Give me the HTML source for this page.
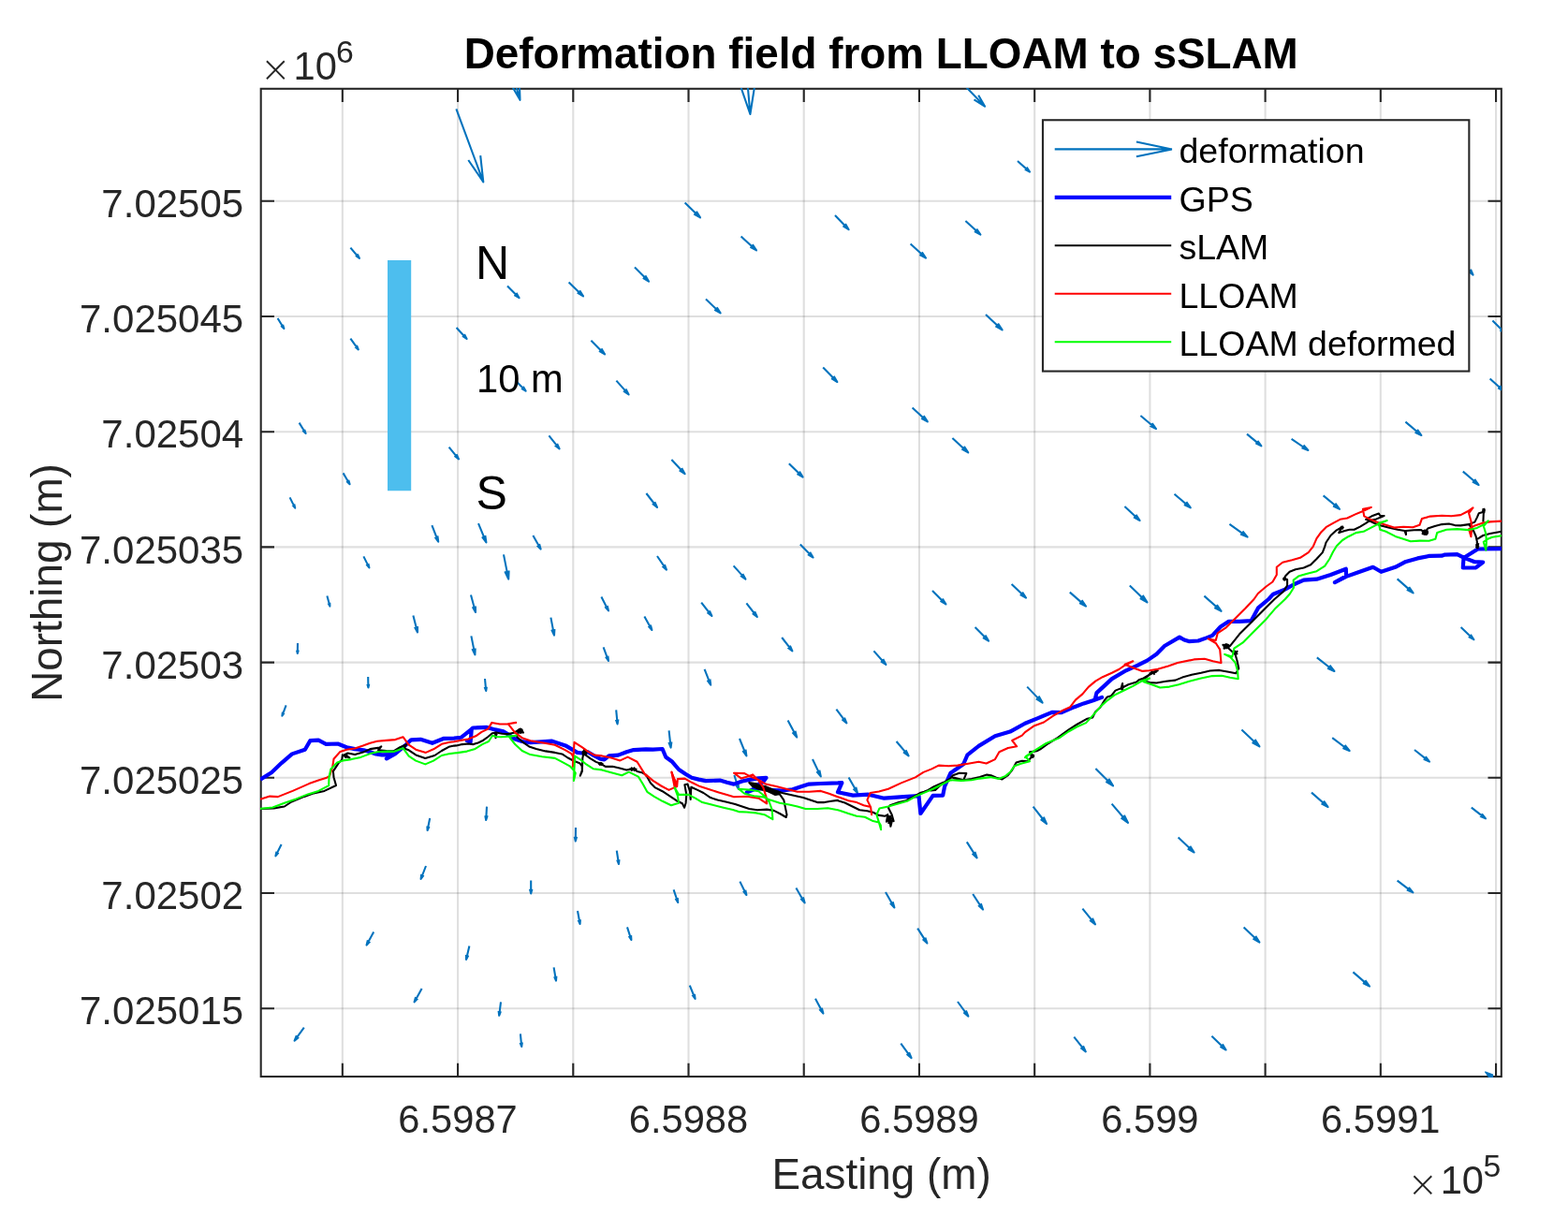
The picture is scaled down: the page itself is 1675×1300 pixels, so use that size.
<!DOCTYPE html>
<html lang="en"><head><meta charset="utf-8"><title>Deformation field from LLOAM to sSLAM</title>
<style>html,body{margin:0;padding:0;background:#fff}body{width:1675px;height:1300px;overflow:hidden}svg{display:block}text{font-family:"Liberation Sans",Arial,Helvetica,sans-serif}</style></head><body>
<svg width="1675" height="1300" viewBox="0 0 1675 1300">
<rect width="1675" height="1300" fill="#fff"/>
<defs><clipPath id="ax"><rect x="278.00" y="94.10" width="1326.10" height="1056.80"/></clipPath></defs>
<g stroke="#262626" stroke-opacity="0.15" stroke-width="2.08" fill="none">
<path d="M365.85 94.8V1150.0"/>
<path d="M489.07 94.8V1150.0"/>
<path d="M612.29 94.8V1150.0"/>
<path d="M735.51 94.8V1150.0"/>
<path d="M858.73 94.8V1150.0"/>
<path d="M981.95 94.8V1150.0"/>
<path d="M1105.17 94.8V1150.0"/>
<path d="M1228.39 94.8V1150.0"/>
<path d="M1351.61 94.8V1150.0"/>
<path d="M1474.83 94.8V1150.0"/>
<path d="M1598.05 94.8V1150.0"/>
<path d="M278.7 214.80H1603.8"/>
<path d="M278.7 338.00H1603.8"/>
<path d="M278.7 461.20H1603.8"/>
<path d="M278.7 584.40H1603.8"/>
<path d="M278.7 707.60H1603.8"/>
<path d="M278.7 830.80H1603.8"/>
<path d="M278.7 954.00H1603.8"/>
<path d="M278.7 1077.20H1603.8"/>
</g>
<g stroke="#262626" stroke-width="2.08" fill="none">
<rect x="278.7" y="94.8" width="1325.1" height="1055.2"/>
<path d="M365.85 1150.0v-14.3M365.85 94.8v14.3M489.07 1150.0v-14.3M489.07 94.8v14.3M612.29 1150.0v-14.3M612.29 94.8v14.3M735.51 1150.0v-14.3M735.51 94.8v14.3M858.73 1150.0v-14.3M858.73 94.8v14.3M981.95 1150.0v-14.3M981.95 94.8v14.3M1105.17 1150.0v-14.3M1105.17 94.8v14.3M1228.39 1150.0v-14.3M1228.39 94.8v14.3M1351.61 1150.0v-14.3M1351.61 94.8v14.3M1474.83 1150.0v-14.3M1474.83 94.8v14.3M1598.05 1150.0v-14.3M1598.05 94.8v14.3M278.7 214.80h14.3M1603.8 214.80h-14.3M278.7 338.00h14.3M1603.8 338.00h-14.3M278.7 461.20h14.3M1603.8 461.20h-14.3M278.7 584.40h14.3M1603.8 584.40h-14.3M278.7 707.60h14.3M1603.8 707.60h-14.3M278.7 830.80h14.3M1603.8 830.80h-14.3M278.7 954.00h14.3M1603.8 954.00h-14.3M278.7 1077.20h14.3M1603.8 1077.20h-14.3"/>
</g>
<g clip-path="url(#ax)">
<path d="M426.6 277.9V524.2" stroke="#4dbeee" stroke-width="25.2" fill="none"/>
<path d="M487.4 116.3L516.3 194.4M500.3 171.0L516.3 194.4L513.2 166.2M541.7 58.7L555.5 106.8M547.0 92.1L555.5 106.8L554.9 89.8M374.4 264.6L384.0 276.0M379.9 273.0L384.0 276.0L381.8 271.4M542.0 305.4L554.6 318.2M549.4 315.0L554.6 318.2L551.5 312.9M296.6 340.0L303.4 351.0M300.2 347.9L303.4 351.0L302.1 346.8M792.7 22.4L801.4 122.0M790.3 89.8L801.4 122.0L806.7 88.4M731.6 216.4L748.0 232.4M741.3 228.5L748.0 232.4L743.9 225.8M892.0 230.0L906.6 245.2M900.5 241.4L906.6 245.2L903.0 239.0M791.6 252.6L808.0 267.4M801.4 263.9L808.0 267.4L803.8 261.2M678.0 285.6L693.0 300.6M686.8 296.9L693.0 300.6L689.3 294.4M607.6 301.4L623.0 316.4M616.7 312.7L623.0 316.4L619.2 310.2M754.0 319.6L769.6 334.4M763.2 330.8L769.6 334.4L765.7 328.2M1024.2 84.9L1052.0 113.6M1040.5 106.4L1052.0 113.6L1045.2 101.8M1087.0 172.0L1100.0 183.6M1094.8 180.8L1100.0 183.6L1096.7 178.7M1031.4 236.0L1047.4 250.6M1040.9 247.1L1047.4 250.6L1043.3 244.5M972.6 260.6L989.0 275.6M982.4 272.0L989.0 275.6L984.8 269.3M1053.0 336.0L1070.6 352.4M1063.4 348.4L1070.6 352.4L1066.1 345.5M1562.0 279.0L1573.6 293.6M1568.6 289.7L1573.6 293.6L1571.0 287.8M1594.4 342.5L1608.0 356.0M1602.4 352.7L1608.0 356.0L1604.6 350.4M1591.6 404.4L1606.0 417.5M1600.2 414.4L1606.0 417.5L1602.3 412.0M374.4 361.6L382.8 373.4M379.1 370.2L382.8 373.4L381.0 368.8M487.6 350.0L498.6 362.0M494.0 358.9L498.6 362.0L496.0 357.1M550.4 406.2L561.6 417.6M557.0 414.8L561.6 417.6L558.8 412.9M319.6 451.6L326.6 463.0M323.3 459.8L326.6 463.0L325.2 458.7M586.4 465.4L597.6 479.4M592.7 475.7L597.6 479.4L595.1 473.9M479.6 477.6L490.0 490.4M485.5 487.0L490.0 490.4L487.6 485.3M366.6 505.4L373.6 517.2M370.3 513.9L373.6 517.2L372.3 512.7M309.6 531.4L315.2 542.6M312.4 539.4L315.2 542.6L314.3 538.4M461.4 561.2L468.2 578.6M464.5 573.4L468.2 578.6L467.4 572.3M511.0 559.2L519.4 579.4M515.0 573.4L519.4 579.4L518.3 572.0M569.4 572.0L577.6 586.6M573.7 582.5L577.6 586.6L576.1 581.1M388.4 594.4L394.4 606.4M391.4 602.9L394.4 606.4L393.4 601.9M538.0 592.4L543.2 618.6M539.3 610.4L543.2 618.6L543.6 609.5M631.4 363.8L646.0 378.4M640.0 374.8L646.0 378.4L642.4 372.4M658.4 406.6L671.6 421.4M666.0 417.6L671.6 421.4L668.5 415.4M879.2 392.6L894.4 408.0M888.1 404.2L894.4 408.0L890.7 401.7M717.4 491.0L731.6 506.2M725.7 502.4L731.6 506.2L728.2 500.0M842.8 495.2L857.6 509.6M851.5 506.1L857.6 509.6L853.9 503.6M690.4 527.0L702.0 542.0M696.9 538.0L702.0 542.0L699.4 536.1M854.8 581.6L868.6 595.5M862.9 592.1L868.6 595.5L865.2 589.8M702.0 594.0L712.0 608.6M707.5 604.6L712.0 608.6L709.9 603.0M974.6 435.4L990.8 450.4M984.2 446.8L990.8 450.4L986.7 444.1M1017.4 468.0L1034.2 483.4M1027.4 479.7L1034.2 483.4L1029.9 476.9M1218.4 444.0L1235.0 458.0M1228.4 454.7L1235.0 458.0L1230.7 452.0M1201.4 541.0L1217.6 556.0M1211.0 552.4L1217.6 556.0L1213.5 549.7M1254.5 527.7L1271.8 542.4M1264.9 539.0L1271.8 542.4L1267.3 536.1M1501.4 450.6L1518.4 465.0M1511.6 461.7L1518.4 465.0L1514.0 458.8M1332.0 463.6L1347.4 476.4M1341.3 473.4L1347.4 476.4L1343.4 470.9M1379.6 468.8L1397.4 481.0M1390.5 478.4L1397.4 481.0L1392.5 475.5M1562.8 503.6L1579.6 518.0M1572.9 514.6L1579.6 518.0L1575.2 511.9M1413.6 529.4L1431.0 543.8M1424.1 540.5L1431.0 543.8L1426.4 537.6M1313.4 559.8L1332.6 573.6M1325.1 570.6L1332.6 573.6L1327.4 567.5M349.4 636.4L352.4 647.6M350.5 644.2L352.4 647.6L352.3 643.7M503.0 635.6L508.0 654.0M504.8 648.3L508.0 654.0L507.9 647.5M441.4 657.4L446.0 675.4M443.0 669.8L446.0 675.4L446.0 669.1M588.4 659.6L592.0 678.6M589.2 672.6L592.0 678.6L592.4 672.0M318.0 687.0L317.8 698.0M317.0 694.4L317.8 698.0L318.8 694.4M503.4 679.4L507.4 699.4M504.4 693.1L507.4 699.4L507.7 692.5M393.2 723.0L393.4 734.4M392.4 730.7L393.4 734.4L394.3 730.6M518.0 725.0L519.2 738.0M517.7 733.8L519.2 738.0L519.9 733.6M305.6 753.4L301.4 764.6M301.9 760.6L301.4 764.6L303.7 761.3M783.6 604.4L796.4 618.6M791.0 615.0L796.4 618.6L793.3 612.9M642.4 637.6L650.0 652.4M646.3 648.1L650.0 652.4L648.7 646.9M749.2 643.6L760.4 658.0M755.5 654.2L760.4 658.0L757.9 652.3M797.4 644.4L808.8 659.0M803.8 655.1L808.8 659.0L806.2 653.2M688.4 658.6L696.4 673.0M692.6 668.9L696.4 673.0L694.9 667.6M835.2 681.0L846.4 695.4M841.5 691.6L846.4 695.4L843.9 689.7M644.6 691.4L650.0 706.0M647.0 701.6L650.0 706.0L649.4 700.7M752.6 714.8L759.2 731.6M755.6 726.6L759.2 731.6L758.4 725.5M658.2 758.4L659.6 773.4M657.9 768.6L659.6 773.4L660.4 768.3M893.4 757.6L904.4 772.4M899.5 768.4L904.4 772.4L902.0 766.6M841.6 769.4L851.2 787.6M846.5 782.4L851.2 787.6L849.5 780.8M714.6 780.4L716.6 798.6M714.4 792.8L716.6 798.6L717.4 792.4M790.0 789.0L797.4 807.4M793.4 801.9L797.4 807.4L796.5 800.7M868.0 811.0L876.8 829.4M872.4 824.1L876.8 829.4L875.4 822.6M906.6 830.6L916.0 847.0M911.5 842.4L916.0 847.0L914.3 840.8M784.4 828.0L789.0 843.0M786.2 838.4L789.0 843.0L788.7 837.7M996.0 631.0L1010.4 645.4M1004.5 641.8L1010.4 645.4L1006.8 639.5M1080.6 624.0L1096.0 638.6M1089.7 635.1L1096.0 638.6L1092.1 632.5M1142.8 632.6L1160.0 647.6M1153.1 644.1L1160.0 647.6L1155.6 641.2M1206.8 625.4L1225.4 643.4M1217.8 639.0L1225.4 643.4L1220.7 635.9M1041.6 670.0L1056.0 684.6M1050.0 681.0L1056.0 684.6L1052.5 678.6M933.4 695.4L946.4 710.0M940.9 706.3L946.4 710.0L943.3 704.1M1097.2 733.6L1113.6 750.6M1106.8 746.3L1113.6 750.6L1109.6 743.6M957.6 792.0L970.6 807.4M965.0 803.4L970.6 807.4L967.6 801.2M1170.4 821.0L1189.0 839.4M1181.3 834.9L1189.0 839.4L1184.4 831.8M1492.6 618.4L1509.6 633.4M1502.8 629.9L1509.6 633.4L1505.2 627.0M1286.4 636.6L1304.6 652.8M1297.3 649.0L1304.6 652.8L1299.9 646.0M1560.6 670.0L1574.4 683.2M1568.8 680.0L1574.4 683.2L1570.9 677.7M1406.8 702.4L1425.4 717.0M1418.1 713.7L1425.4 717.0L1420.5 710.6M1326.4 779.4L1345.4 797.4M1337.6 793.0L1345.4 797.4L1340.6 789.9M1423.2 788.2L1441.6 802.0M1434.4 799.0L1441.6 802.0L1436.7 795.9M1511.0 801.0L1527.0 813.6M1520.7 810.8L1527.0 813.6L1522.8 808.1M1401.0 846.6L1418.6 862.0M1411.5 858.4L1418.6 862.0L1414.1 855.5M520.0 861.6L519.2 876.0M518.3 871.2L519.2 876.0L520.7 871.3M459.2 874.0L456.6 887.0M456.4 882.5L456.6 887.0L458.5 882.9M300.6 902.0L294.4 914.4M295.4 909.8L294.4 914.4L297.5 910.8M455.0 925.0L449.6 939.0M450.2 933.9L449.6 939.0L452.5 934.8M567.2 940.4L567.2 954.4M566.0 949.8L567.2 954.4L568.4 949.8M399.2 995.4L391.6 1009.6M392.9 1004.3L391.6 1009.6L395.3 1005.5M501.4 1010.4L498.0 1025.0M497.9 1019.9L498.0 1025.0L500.3 1020.5M591.6 1033.4L594.0 1047.6M592.0 1043.1L594.0 1047.6L594.4 1042.7M450.6 1056.0L442.6 1070.4M444.1 1065.0L442.6 1070.4L446.4 1066.3M535.0 1070.4L533.2 1084.8M532.6 1079.9L533.2 1084.8L535.0 1080.2M324.8 1097.7L314.6 1111.7M316.8 1106.2L314.6 1111.7L319.1 1107.9M555.9 1104.3L557.2 1118.0M555.6 1113.6L557.2 1118.0L557.9 1113.4M615.0 884.0L614.8 898.6M613.7 893.8L614.8 898.6L616.1 893.8M658.8 908.6L661.0 923.0M659.1 918.4L661.0 923.0L661.5 918.1M790.4 941.6L797.4 956.0M793.9 951.8L797.4 956.0L796.3 950.7M719.6 950.4L724.2 964.0M721.6 959.9L724.2 964.0L723.8 959.1M850.4 948.6L859.6 964.4M855.3 959.9L859.6 964.4L857.9 958.4M617.0 973.0L619.6 987.0M617.6 982.6L619.6 987.0L619.9 982.2M670.0 990.4L674.4 1004.0M671.8 999.9L674.4 1004.0L674.1 999.1M736.8 1052.6L742.6 1067.0M739.5 1062.7L742.6 1067.0L741.9 1061.8M871.0 1066.8L879.4 1082.6M875.3 1078.1L879.4 1082.6L877.9 1076.7M1103.6 861.6L1118.0 880.0M1111.7 875.1L1118.0 880.0L1114.8 872.7M1187.6 858.6L1205.0 879.0M1197.6 873.7L1205.0 879.0L1200.9 870.8M1258.6 894.5L1275.6 910.5M1268.7 906.6L1275.6 910.5L1271.3 903.8M1032.8 899.4L1043.6 916.4M1038.6 911.7L1043.6 916.4L1041.4 909.9M946.0 953.0L955.4 969.4M950.9 964.8L955.4 969.4L953.7 963.2M1039.2 955.0L1050.0 971.6M1045.1 967.0L1050.0 971.6L1047.8 965.2M1156.4 970.6L1170.0 987.4M1164.1 983.0L1170.0 987.4L1166.9 980.7M980.2 991.6L990.4 1007.6M985.7 1003.2L990.4 1007.6L988.4 1001.5M1023.0 1070.0L1034.4 1085.6M1029.4 1081.4L1034.4 1085.6L1031.9 1079.5M1147.3 1107.6L1159.8 1123.4M1154.4 1119.2L1159.8 1123.4L1157.0 1117.2M1571.8 862.6L1587.0 874.4M1581.0 871.8L1587.0 874.4L1583.0 869.3M1492.6 940.6L1509.4 953.4M1502.8 950.6L1509.4 953.4L1504.9 947.8M1328.6 990.6L1345.4 1006.6M1338.5 1002.7L1345.4 1006.6L1341.2 999.9M1445.4 1038.4L1463.0 1053.6M1455.9 1050.0L1463.0 1053.6L1458.4 1047.1M1294.4 1106.8L1309.6 1121.5M1303.4 1117.9L1309.6 1121.5L1305.8 1115.4M962.3 1114.6L973.6 1130.1M968.6 1125.9L973.6 1130.1L971.1 1124.1" stroke="#0072bd" stroke-width="2.08" fill="none" stroke-linejoin="round"/>
<path d="M1586.4 1144.3L1595.1 1147.6V1151.2H1590.2L1586.2 1145.6Z" fill="#0072bd"/>
<path d="M278.0 832.7L290.0 825.2L300.7 815.1L312.0 805.4L325.8 800.7L331.4 791.1L340.2 790.7L348.3 794.8L360.9 794.5L370.3 798.2L379.1 800.1L388.5 801.3L395.4 803.2L401.6 805.5L407.9 806.4L419.2 806.1L412.9 810.4L422.3 805.1L434.2 795.1L439.2 790.3L449.3 789.8L461.8 793.8L474.3 788.8L485.0 788.6L492.5 787.8L503.8 778.8L502.6 792.9L498.8 791.1L502.6 792.9L503.8 778.8L505.1 777.5L520.1 776.9L528.9 779.4L537.7 781.3L543.9 785.1L550.2 789.5L557.7 792.0L566.5 793.2L579.0 792.4L589.1 791.6L596.6 793.9L604.1 796.4L610.4 800.1L616.7 803.9L621.7 804.5L627.9 803.2L634.2 807.0L641.7 810.8L645.5 811.4L650.5 807.4L660.5 806.6L669.3 803.2L676.8 801.1L690.0 800.4L697.5 800.7L707.6 800.0L711.3 808.8L718.2 813.8L725.1 822.0L732.6 827.0L738.9 830.8L746.4 832.6L754.0 834.1L769.0 833.6L776.5 835.8L784.0 837.6L792.8 834.5L801.6 832.6L810.4 831.4L818.5 830.8L815.4 835.1L809.1 838.3L805.4 842.7L797.8 846.4L805.4 843.3L815.4 842.0L822.9 843.9L835.5 844.5L846.7 843.3L854.2 840.8L864.3 837.6L876.8 837.0L895.0 836.4L899.4 836.1L895.0 846.2L911.3 849.6L927.6 848.7L944.5 852.7L965.2 851.2L981.5 850.2L983.4 869.0L996.6 849.9L1007.2 849.6L1009.1 840.2L1015.4 825.8L1029.2 816.3L1033.5 806.3L1045.5 796.9L1063.0 786.2L1079.0 781.6L1095.0 772.7L1108.8 767.1L1123.8 760.8L1133.9 761.2L1147.7 755.2L1157.7 751.4L1167.7 748.3L1177.1 744.9L1169.6 747.6L1171.5 740.1L1187.8 725.1L1202.8 716.3L1215.4 710.7L1225.4 705.6L1235.4 698.8L1244.0 690.0L1260.0 680.6L1265.0 683.5L1270.0 685.1L1280.0 684.5L1288.8 681.4L1295.1 678.9L1303.8 669.5L1312.6 663.8L1323.9 663.8L1336.5 663.2L1344.0 649.4L1355.2 640.0L1360.1 634.7L1372.6 629.6L1382.7 624.0L1392.7 619.6L1406.5 618.7L1421.5 614.0L1437.8 607.7L1438.1 615.2L1425.9 622.1L1438.1 615.9L1450.4 611.5L1466.7 605.8L1475.4 610.8L1490.5 605.8L1501.8 599.9L1514.3 596.4L1526.8 593.9L1540.0 593.7L1542.8 592.7L1556.6 592.1L1564.1 595.9L1575.4 600.2L1584.2 600.5L1576.6 606.3L1562.8 606.5L1563.5 595.9L1578.6 586.5L1608.0 586.1" stroke="#0000ff" stroke-width="4.17" fill="none" stroke-linejoin="round"/>
<path d="M273.8 864.3L278.8 864.0L292.6 863.4L303.8 861.5L311.4 856.5L325.1 850.9L333.9 847.7L346.5 844.9L359.0 839.0L356.5 830.2L355.9 823.9L361.5 815.4L365.3 811.4L365.9 806.4L373.4 809.5L367.1 806.6L371.5 804.5L379.1 806.1L387.8 803.6L395.4 800.1L405.4 798.6L407.3 797.3L404.1 801.3L412.9 802.0L420.4 802.4L427.3 798.2L434.2 795.1L431.7 799.5L436.7 801.3L444.2 806.4L454.3 809.9L464.3 807.0L471.8 802.0L479.4 797.8L485.0 796.6L487.5 796.4L493.8 795.1L500.1 794.5L505.7 795.1L511.3 793.2L516.4 790.7L521.4 787.0L525.8 783.2L530.1 782.6L529.5 788.2L530.1 782.6L536.4 783.8L542.7 784.1L549.0 782.8L555.2 778.8L559.0 782.6L554.0 780.1L552.1 787.0L559.0 793.2L565.2 797.4L572.8 799.9L582.8 802.4L592.8 803.9L600.4 805.4L606.6 809.5L612.9 812.7L619.2 815.2L621.7 818.3L621.9 823.9L619.8 828.7L621.9 822.7L622.3 810.1L624.2 800.1L625.4 806.4L630.5 810.1L636.7 813.9L641.7 815.8L646.8 818.9L654.3 818.7L661.8 820.4L669.3 822.4L675.6 821.2L680.6 823.9L685.6 825.2L690.0 827.6L695.0 836.4L700.0 841.4L707.6 845.2L715.1 850.2L722.6 855.2L728.9 858.3L731.1 862.7L732.6 857.7L733.3 848.9L731.4 838.3L734.5 837.6L737.0 845.2L737.7 853.9L738.3 840.8L745.2 843.9L751.5 847.0L759.0 852.1L766.5 854.6L775.3 856.5L785.3 859.0L792.8 861.5L800.3 864.0L809.1 865.2L819.1 864.6L826.7 865.9L832.9 869.0L839.8 873.0L840.5 870.2L837.3 854.6L832.9 848.3L827.9 848.9L820.4 845.2L810.4 842.7L804.1 840.1L800.3 836.1L807.9 837.4L829.2 847.7L805.4 840.1L832.9 846.4L802.9 838.3L817.9 840.1L826.7 843.9L835.5 847.0L846.7 849.5L858.0 852.1L865.5 854.6L873.1 857.1L880.6 857.1L888.1 855.8L895.0 854.9L895.0 855.2L902.5 857.5L910.1 861.2L918.2 865.2L926.4 866.2L932.6 867.8L938.9 870.9L945.2 871.8L948.3 870.2L947.0 877.8L950.2 872.8L951.4 882.8L953.3 875.3L954.6 877.1L952.7 870.2L948.9 862.7L950.8 860.2L960.2 857.1L967.7 855.2L975.2 851.5L982.8 847.1L987.2 845.8L991.5 843.9L997.8 840.2L1007.9 835.8L999.1 843.9L994.1 844.5L1000.3 840.8L1015.4 831.4L1017.9 828.2L1024.8 825.8L1032.3 826.1L1029.2 833.3L1019.1 831.4L1016.6 830.1L1029.2 833.3L1037.9 832.0L1046.7 830.1L1054.2 827.6L1058.6 828.2L1064.3 830.8L1070.5 832.4L1076.8 828.2L1081.2 822.6L1085.6 814.5L1091.8 812.8L1098.1 813.2L1102.5 807.8L1100.0 803.4L1102.5 807.8L1100.0 803.4L1107.5 802.2L1111.3 800.3L1120.1 794.0L1130.1 787.8L1141.4 779.6L1150.2 774.0L1161.5 767.7L1167.1 766.5L1170.2 760.2L1175.2 755.8L1180.2 747.6L1182.8 744.5L1187.2 743.2L1191.5 737.6L1197.8 735.1L1199.1 730.1L1199.1 737.6L1197.8 735.1L1205.3 731.3L1214.1 728.6L1216.6 726.3L1221.6 724.5L1226.6 721.3L1231.7 717.8L1236.7 716.3L1227.9 720.7L1220.4 727.0L1227.9 729.1L1235.4 729.5L1245.5 727.8L1255.5 726.6L1263.0 723.6L1273.0 720.7L1283.1 718.8L1292.6 716.5L1302.6 715.9L1312.6 717.7L1320.2 719.2L1323.3 714.0L1321.4 705.2L1319.5 698.9L1312.6 692.7L1306.4 688.9L1313.9 690.1L1307.6 692.7L1310.1 688.3L1313.9 690.1L1323.9 677.6L1336.5 665.1L1347.7 653.8L1361.5 640.0L1371.4 631.5L1375.1 625.2L1375.1 619.0L1371.4 618.4L1373.2 615.2L1377.6 610.8L1383.9 608.3L1392.7 606.5L1400.2 603.3L1406.5 597.0L1412.8 590.1L1415.2 583.9L1416.5 579.5L1421.5 572.0L1427.8 566.3L1433.4 563.2L1430.3 569.1L1436.6 567.0L1441.6 565.7L1446.6 565.7L1452.9 562.6L1459.1 558.8L1462.9 556.3L1459.1 554.8L1465.4 551.3L1472.9 548.5L1474.2 550.7L1478.6 551.0L1470.4 554.4L1462.9 556.3L1467.9 558.8L1475.4 561.6L1484.2 563.8L1493.0 565.7L1500.5 567.0L1502.0 571.1L1501.8 567.0L1510.5 566.3L1518.1 566.1L1522.1 568.9L1519.6 570.1L1524.0 570.8L1522.1 568.9L1525.2 564.5L1532.8 562.0L1540.3 560.1L1547.8 559.5L1554.1 561.1L1560.3 561.4L1569.1 560.1L1573.5 565.8L1576.6 572.7L1577.9 578.9L1578.5 585.8" stroke="#000000" stroke-width="2.08" fill="none" stroke-linejoin="round"/>
<path d="M1569.1 560.1L1575.4 557.6L1577.9 552.6L1579.8 548.2L1584.2 547.0L1585.4 543.8L1584.8 548.8L1584.4 557.6" stroke="#000000" stroke-width="2.08" fill="none" stroke-linejoin="round"/>
<path d="M1578.1 575.8L1584.2 572.0L1591.7 570.1L1608.0 567.0" stroke="#000000" stroke-width="2.08" fill="none" stroke-linejoin="round"/>
<path d="M529.3 781.7L530.2 788.0" stroke="#000000" stroke-width="2.08" fill="none" stroke-linejoin="round"/>
<path d="M531.3 784.0L528.2 785.7" stroke="#000000" stroke-width="2.08" fill="none" stroke-linejoin="round"/>
<path d="M553.1 779.9L558.9 781.7" stroke="#000000" stroke-width="2.08" fill="none" stroke-linejoin="round"/>
<path d="M554.6 778.1L557.4 783.5" stroke="#000000" stroke-width="2.08" fill="none" stroke-linejoin="round"/>
<path d="M556.9 777.9L555.1 783.7" stroke="#000000" stroke-width="2.08" fill="none" stroke-linejoin="round"/>
<path d="M558.6 779.4L553.3 782.2" stroke="#000000" stroke-width="2.08" fill="none" stroke-linejoin="round"/>
<path d="M621.5 803.5L627.4 804.7" stroke="#000000" stroke-width="2.08" fill="none" stroke-linejoin="round"/>
<path d="M622.8 801.6L626.1 806.6" stroke="#000000" stroke-width="2.08" fill="none" stroke-linejoin="round"/>
<path d="M625.0 801.2L623.8 807.1" stroke="#000000" stroke-width="2.08" fill="none" stroke-linejoin="round"/>
<path d="M626.9 802.5L621.9 805.8" stroke="#000000" stroke-width="2.08" fill="none" stroke-linejoin="round"/>
<path d="M639.0 815.7L644.5 816.1" stroke="#000000" stroke-width="2.08" fill="none" stroke-linejoin="round"/>
<path d="M640.6 814.2L642.9 817.7" stroke="#000000" stroke-width="2.08" fill="none" stroke-linejoin="round"/>
<path d="M643.3 814.4L640.1 817.5" stroke="#000000" stroke-width="2.08" fill="none" stroke-linejoin="round"/>
<path d="M672.0 821.7L680.5 821.7" stroke="#000000" stroke-width="2.08" fill="none" stroke-linejoin="round"/>
<path d="M674.1 819.8L678.3 823.5" stroke="#000000" stroke-width="2.08" fill="none" stroke-linejoin="round"/>
<path d="M678.3 819.8L674.1 823.5" stroke="#000000" stroke-width="2.08" fill="none" stroke-linejoin="round"/>
<path d="M366.9 807.3L373.0 808.7" stroke="#000000" stroke-width="2.08" fill="none" stroke-linejoin="round"/>
<path d="M371.0 806.1L368.8 809.8" stroke="#000000" stroke-width="2.08" fill="none" stroke-linejoin="round"/>
<path d="M949.3 870.9L951.5 880.2" stroke="#000000" stroke-width="2.08" fill="none" stroke-linejoin="round"/>
<path d="M951.6 870.9L949.2 880.1" stroke="#000000" stroke-width="2.08" fill="none" stroke-linejoin="round"/>
<path d="M953.2 873.7L947.6 877.3" stroke="#000000" stroke-width="2.08" fill="none" stroke-linejoin="round"/>
<path d="M953.2 877.5L947.7 873.5" stroke="#000000" stroke-width="2.08" fill="none" stroke-linejoin="round"/>
<path d="M994.5 843.5L1001.1 841.3" stroke="#000000" stroke-width="2.08" fill="none" stroke-linejoin="round"/>
<path d="M996.0 840.4L999.6 844.4" stroke="#000000" stroke-width="2.08" fill="none" stroke-linejoin="round"/>
<path d="M1198.9 730.1L1199.2 737.6" stroke="#000000" stroke-width="2.08" fill="none" stroke-linejoin="round"/>
<path d="M1200.9 733.6L1197.2 734.1" stroke="#000000" stroke-width="2.08" fill="none" stroke-linejoin="round"/>
<path d="M1227.6 719.5L1235.7 717.6" stroke="#000000" stroke-width="2.08" fill="none" stroke-linejoin="round"/>
<path d="M1229.7 716.5L1233.6 720.6" stroke="#000000" stroke-width="2.08" fill="none" stroke-linejoin="round"/>
<path d="M1101.2 806.0L1104.3 809.2" stroke="#000000" stroke-width="2.08" fill="none" stroke-linejoin="round"/>
<path d="M1103.4 805.4L1102.2 809.7" stroke="#000000" stroke-width="2.08" fill="none" stroke-linejoin="round"/>
<path d="M1105.0 807.0L1100.6 808.1" stroke="#000000" stroke-width="2.08" fill="none" stroke-linejoin="round"/>
<path d="M1306.3 689.5L1313.5 691.3" stroke="#000000" stroke-width="2.08" fill="none" stroke-linejoin="round"/>
<path d="M1309.0 687.5L1310.7 693.3" stroke="#000000" stroke-width="2.08" fill="none" stroke-linejoin="round"/>
<path d="M1312.6 688.4L1307.1 692.4" stroke="#000000" stroke-width="2.08" fill="none" stroke-linejoin="round"/>
<path d="M1318.4 694.9L1321.9 699.2" stroke="#000000" stroke-width="2.08" fill="none" stroke-linejoin="round"/>
<path d="M1322.3 695.3L1318.0 698.8" stroke="#000000" stroke-width="2.08" fill="none" stroke-linejoin="round"/>
<path d="M1370.4 618.1L1374.3 618.9" stroke="#000000" stroke-width="2.08" fill="none" stroke-linejoin="round"/>
<path d="M1371.7 616.6L1373.0 620.4" stroke="#000000" stroke-width="2.08" fill="none" stroke-linejoin="round"/>
<path d="M1373.7 617.0L1371.0 620.0" stroke="#000000" stroke-width="2.08" fill="none" stroke-linejoin="round"/>
<path d="M1431.8 562.6L1435.3 564.5" stroke="#000000" stroke-width="2.08" fill="none" stroke-linejoin="round"/>
<path d="M1433.5 561.6L1433.6 565.6" stroke="#000000" stroke-width="2.08" fill="none" stroke-linejoin="round"/>
<path d="M1435.3 562.5L1431.8 564.6" stroke="#000000" stroke-width="2.08" fill="none" stroke-linejoin="round"/>
<path d="M1519.1 567.8L1525.8 569.4" stroke="#000000" stroke-width="2.08" fill="none" stroke-linejoin="round"/>
<path d="M1520.8 566.1L1524.1 571.1" stroke="#000000" stroke-width="2.08" fill="none" stroke-linejoin="round"/>
<path d="M1523.5 565.9L1521.4 571.3" stroke="#000000" stroke-width="2.08" fill="none" stroke-linejoin="round"/>
<path d="M1525.5 567.3L1519.3 569.9" stroke="#000000" stroke-width="2.08" fill="none" stroke-linejoin="round"/>
<path d="M1519.1 567.8L1525.8 569.5" stroke="#000000" stroke-width="2.08" fill="none" stroke-linejoin="round"/>
<path d="M1520.8 566.2L1524.1 571.1" stroke="#000000" stroke-width="2.08" fill="none" stroke-linejoin="round"/>
<path d="M1523.5 566.0L1521.4 571.3" stroke="#000000" stroke-width="2.08" fill="none" stroke-linejoin="round"/>
<path d="M1525.6 567.3L1519.4 570.0" stroke="#000000" stroke-width="2.08" fill="none" stroke-linejoin="round"/>
<path d="M1584.3 543.1L1585.5 548.3" stroke="#000000" stroke-width="2.08" fill="none" stroke-linejoin="round"/>
<path d="M1585.9 543.5L1583.9 547.9" stroke="#000000" stroke-width="2.08" fill="none" stroke-linejoin="round"/>
<path d="M1586.5 546.1L1583.3 545.3" stroke="#000000" stroke-width="2.08" fill="none" stroke-linejoin="round"/>
<path d="M1577.8 579.0L1578.5 586.4" stroke="#000000" stroke-width="2.08" fill="none" stroke-linejoin="round"/>
<path d="M1579.6 580.3L1576.7 585.1" stroke="#000000" stroke-width="2.08" fill="none" stroke-linejoin="round"/>
<path d="M1579.9 584.0L1576.4 581.4" stroke="#000000" stroke-width="2.08" fill="none" stroke-linejoin="round"/>
<path d="M825.6 846.4L832.8 847.7" stroke="#000000" stroke-width="2.08" fill="none" stroke-linejoin="round"/>
<path d="M828.4 844.8L830.0 849.2" stroke="#000000" stroke-width="2.08" fill="none" stroke-linejoin="round"/>
<path d="M831.9 845.5L826.4 848.6" stroke="#000000" stroke-width="2.08" fill="none" stroke-linejoin="round"/>
<path d="M802.4 837.5L808.4 839.0" stroke="#000000" stroke-width="2.08" fill="none" stroke-linejoin="round"/>
<path d="M805.0 836.3L805.8 840.2" stroke="#000000" stroke-width="2.08" fill="none" stroke-linejoin="round"/>
<path d="M808.0 837.1L802.8 839.5" stroke="#000000" stroke-width="2.08" fill="none" stroke-linejoin="round"/>
<path d="M273.8 854.2L278.8 853.4L288.2 850.6L296.9 851.1L312.6 844.9L330.2 837.1L340.2 833.6L348.3 831.1L352.1 828.9L355.2 819.5L356.5 810.8L363.4 802.9L370.3 800.7L379.1 799.5L387.8 796.6L395.4 793.8L402.9 791.7L412.9 790.9L422.3 790.1L430.5 787.2L436.7 795.7L444.2 800.7L454.9 803.9L463.1 800.3L471.8 794.8L480.6 792.8L485.0 792.3L490.0 791.3L500.1 789.5L508.2 786.3L514.5 781.9L521.4 778.6L525.4 771.9L533.9 773.5L542.7 773.2L551.2 771.9L542.7 773.2L550.2 782.6L557.7 788.2L566.5 791.3L579.0 793.2L592.8 795.7L604.1 801.4L610.4 805.1L612.3 808.3L611.9 818.9L613.5 792.9L621.7 798.2L627.9 802.6L634.8 806.6L643.0 807.4L653.0 809.5L662.4 812.4L670.6 808.6L680.6 813.7L686.9 823.9L690.0 828.7L690.0 827.6L697.5 833.9L706.3 839.5L714.5 843.9L720.7 841.1L717.4 824.5L723.2 840.1L723.9 832.0L731.4 831.6L738.9 835.8L747.7 840.1L757.7 843.3L767.8 846.4L776.5 848.9L784.0 851.2L797.8 850.8L810.4 852.7L819.1 858.3L818.5 851.4L815.4 841.4L810.4 833.9L804.1 827.4L800.3 828.9L795.3 826.1L784.0 825.7L791.6 831.4L800.3 828.9L810.4 833.2L817.9 837.6L829.2 840.1L841.7 843.3L851.8 845.8L864.3 845.8L876.8 844.9L885.6 847.7L895.0 851.2L897.5 852.1L906.3 855.2L915.1 857.1L922.6 860.2L930.1 862.1L931.1 870.2L930.1 862.1L926.4 854.6L929.5 847.1L938.9 845.4L948.9 842.7L962.7 836.4L977.8 830.4L986.5 824.9L995.3 821.4L1002.8 817.6L1013.5 818.2L1022.9 817.6L1034.2 815.7L1045.5 813.8L1053.6 815.5L1063.0 811.1L1067.4 803.2L1076.8 799.0L1086.2 797.3L1081.2 791.0L1091.8 785.6L1095.0 782.1L1105.0 775.2L1115.1 771.5L1125.1 764.6L1135.1 758.9L1143.3 755.2L1148.9 747.6L1156.4 741.4L1162.7 733.9L1170.2 727.6L1177.8 723.2L1187.8 718.8L1195.3 715.0L1201.6 710.7L1210.3 706.3L1201.6 709.8L1210.3 713.2L1220.4 716.9L1227.9 716.3L1236.7 714.8L1248.0 711.5L1258.0 708.1L1275.5 704.4L1286.8 703.8L1295.6 706.3L1303.8 708.1L1304.5 708.1L1303.2 693.9L1298.8 687.0L1290.7 682.4L1298.8 683.9L1300.7 676.4L1310.1 670.1L1320.2 660.1L1330.2 650.0L1339.6 640.0L1343.8 634.0L1352.6 626.5L1359.5 621.5L1363.8 614.0L1363.8 605.8L1370.1 600.8L1380.2 598.3L1388.9 595.8L1397.7 590.1L1402.7 583.9L1406.5 575.1L1411.5 568.2L1416.5 563.2L1424.0 558.8L1431.5 554.8L1439.1 553.5L1447.8 549.4L1456.0 546.0L1464.8 541.9L1456.0 543.8L1457.2 551.3L1462.9 554.4L1470.4 557.5L1480.5 560.7L1489.2 563.6L1499.2 562.8L1509.3 563.2L1516.5 560.8L1519.0 553.9L1527.7 551.6L1540.3 550.7L1550.3 551.3L1560.3 550.1L1567.8 546.3L1573.5 542.3L1569.1 548.2L1571.6 557.6L1572.2 563.9L1571.4 573.3L1569.1 565.1L1575.4 561.4L1582.9 558.9L1591.7 557.4L1608.0 556.4" stroke="#ff0000" stroke-width="2.08" fill="none" stroke-linejoin="round"/>
<path d="M717.4 824.5L722.0 840.8L718.1 827.0L722.6 838.3L718.9 830.1L723.0 836.4" stroke="#ff0000" stroke-width="2.08" fill="none" stroke-linejoin="round"/>
<path d="M273.8 864.3L278.8 863.8L291.3 862.5L303.8 857.8L316.4 853.4L328.9 848.4L340.2 844.9L351.2 839.2L351.5 830.2L353.4 821.4L360.2 814.5L366.5 812.4L375.3 811.1L385.3 808.9L395.4 805.1L402.9 803.2L412.9 802.6L420.4 802.9L425.4 801.3L430.5 799.1L436.7 807.6L444.2 812.6L454.3 816.4L463.1 812.6L471.8 807.0L480.6 805.1L485.0 804.5L488.8 804.1L498.8 802.6L507.6 799.9L515.1 795.1L522.0 792.0L526.1 785.7L530.1 787.0L535.2 787.3L542.7 786.6L551.5 785.7L543.9 787.0L550.2 795.1L557.7 802.0L566.5 806.1L579.0 808.3L592.8 809.9L600.4 813.9L609.1 818.7L612.9 822.7L614.8 825.8L612.9 834.0L614.1 807.6L619.2 810.8L625.4 815.8L633.6 821.2L643.0 822.4L653.0 825.2L664.3 828.3L671.8 824.6L681.9 829.6L686.9 837.7L691.3 845.8L698.8 850.8L707.6 855.8L717.0 860.2L725.1 857.7L723.9 850.2L720.7 841.4L725.1 848.9L735.1 848.7L742.7 852.7L750.2 857.1L760.2 859.6L772.8 862.7L782.8 865.0L789.1 867.1L797.8 867.5L807.9 868.4L816.6 870.2L825.4 875.2L824.8 865.2L821.7 856.5L816.6 850.2L810.4 845.2L802.9 843.9L789.1 842.7L795.3 847.7L805.4 850.2L815.4 851.4L822.9 854.6L832.9 857.7L843.0 859.6L851.8 861.5L860.5 864.0L873.1 864.0L884.3 863.3L895.0 865.2L897.5 865.9L906.3 869.0L915.1 871.8L923.9 872.8L932.6 877.1L938.9 878.4L940.8 881.5L941.1 886.3L938.9 878.4L936.4 870.2L939.5 863.4L948.9 861.5L960.2 858.3L969.0 855.8L977.8 850.8L986.5 847.1L996.6 842.7L1006.6 837.7L1015.4 833.3L1026.7 833.9L1037.9 833.3L1046.7 831.6L1058.0 830.1L1066.8 832.0L1074.3 828.9L1079.3 824.5L1083.7 818.2L1090.6 815.7L1100.0 813.2L1095.6 808.2L1100.0 805.1L1095.0 809.1L1105.0 801.8L1117.6 794.0L1131.4 788.4L1141.4 781.5L1150.2 776.5L1160.2 772.1L1167.7 763.9L1176.5 753.9L1182.8 748.3L1190.3 742.6L1199.1 738.2L1210.3 732.9L1220.4 727.0L1227.9 724.5L1221.6 728.2L1230.4 731.3L1239.2 734.5L1249.2 733.6L1259.2 731.3L1270.5 727.8L1283.1 724.5L1295.1 722.1L1305.1 721.7L1313.9 723.8L1322.7 725.2L1322.0 716.5L1319.5 707.7L1314.5 702.1L1308.2 698.9L1316.4 701.4L1318.3 692.7L1327.7 686.4L1339.0 675.1L1351.5 662.6L1362.8 649.4L1372.8 640.0L1377.6 634.7L1382.0 627.8L1381.7 619.6L1387.7 615.2L1396.5 612.7L1406.5 610.2L1415.2 604.6L1420.3 597.0L1424.0 589.5L1427.8 583.2L1434.1 577.0L1440.3 573.2L1448.5 569.1L1456.6 567.8L1464.2 563.8L1472.9 559.4L1481.7 556.0L1472.9 558.8L1474.2 565.7L1480.5 567.8L1490.5 572.9L1499.2 575.7L1506.8 578.2L1516.8 577.6L1526.5 577.7L1533.4 575.8L1535.2 568.9L1545.3 565.8L1556.6 565.1L1569.1 566.1L1577.9 563.9L1585.4 560.1L1589.8 556.4L1584.8 562.0L1587.3 570.1L1587.9 578.9L1587.3 587.7L1584.8 578.9L1589.2 575.8L1594.2 573.7L1608.0 571.6" stroke="#00ff00" stroke-width="2.08" fill="none" stroke-linejoin="round"/>
</g>
<g fill="#000" font-size="50px">
<text x="508.1" y="297.9">N</text>
<text x="508.4" y="544.4">S</text>
<text x="509.1" y="418.5" font-size="41.67px">10 m</text>
</g>
<g fill="#262626" font-size="41.67px">
<text x="489.07" y="1210.3" text-anchor="middle">6.5987</text>
<text x="735.51" y="1210.3" text-anchor="middle">6.5988</text>
<text x="981.95" y="1210.3" text-anchor="middle">6.5989</text>
<text x="1228.39" y="1210.3" text-anchor="middle">6.599</text>
<text x="1474.83" y="1210.3" text-anchor="middle">6.5991</text>
<text x="260.2" y="232.00" text-anchor="end" font-size="42px">7.02505</text>
<text x="260.2" y="355.20" text-anchor="end" font-size="42px">7.025045</text>
<text x="260.2" y="478.40" text-anchor="end" font-size="42px">7.02504</text>
<text x="260.2" y="601.60" text-anchor="end" font-size="42px">7.025035</text>
<text x="260.2" y="724.80" text-anchor="end" font-size="42px">7.02503</text>
<text x="260.2" y="848.00" text-anchor="end" font-size="42px">7.025025</text>
<text x="260.2" y="971.20" text-anchor="end" font-size="42px">7.02502</text>
<text x="260.2" y="1094.40" text-anchor="end" font-size="42px">7.025015</text>
<text><tspan x="278.06" y="86.8" font-family="DejaVu Sans,sans-serif" font-weight="200" font-size="39px">×</tspan><tspan x="313.5" y="84.9">10</tspan><tspan x="359.0" y="66.8" font-size="33.8px">6</tspan></text>
<text><tspan x="1503.5" y="1277.9" font-family="DejaVu Sans,sans-serif" font-weight="200" font-size="39px">×</tspan><tspan x="1538.7" y="1275.3">10</tspan><tspan x="1584.6" y="1257.0" font-size="33.8px">5</tspan></text>
</g>
<text x="941.6" y="1269.9" text-anchor="middle" font-size="45.83px" fill="#262626">Easting (m)</text>
<text transform="translate(65.8 622.5) rotate(-90)" text-anchor="middle" font-size="45.83px" fill="#262626">Northing (m)</text>
<text x="941.2" y="73" text-anchor="middle" font-size="45.83px" font-weight="bold" fill="#000">Deformation field from LLOAM to sSLAM</text>
<rect x="1113.95" y="128.25" width="455.4" height="268.3" fill="#fff" stroke="#262626" stroke-width="2.08"/>
<g fill="none">
<path d="M1126.7 159.4H1251.9M1213.9 151.6L1251.9 159.4L1213.9 167.3" stroke="#0072bd" stroke-width="2.08"/>
<path d="M1126.7 210.9H1251.2" stroke="#0000ff" stroke-width="4.17"/>
<path d="M1126.7 262.3H1251.2" stroke="#000" stroke-width="2.08"/>
<path d="M1126.7 313.7H1251.2" stroke="#ff0000" stroke-width="2.08"/>
<path d="M1126.7 365.2H1251.2" stroke="#00ff00" stroke-width="2.08"/>
</g>
<g fill="#000" font-size="37.5px">
<text x="1259.5" y="174.30">deformation</text>
<text x="1259.5" y="225.75">GPS</text>
<text x="1259.5" y="277.20">sLAM</text>
<text x="1259.5" y="328.65">LLOAM</text>
<text x="1259.5" y="380.10">LLOAM deformed</text>
</g>
</svg></body></html>
